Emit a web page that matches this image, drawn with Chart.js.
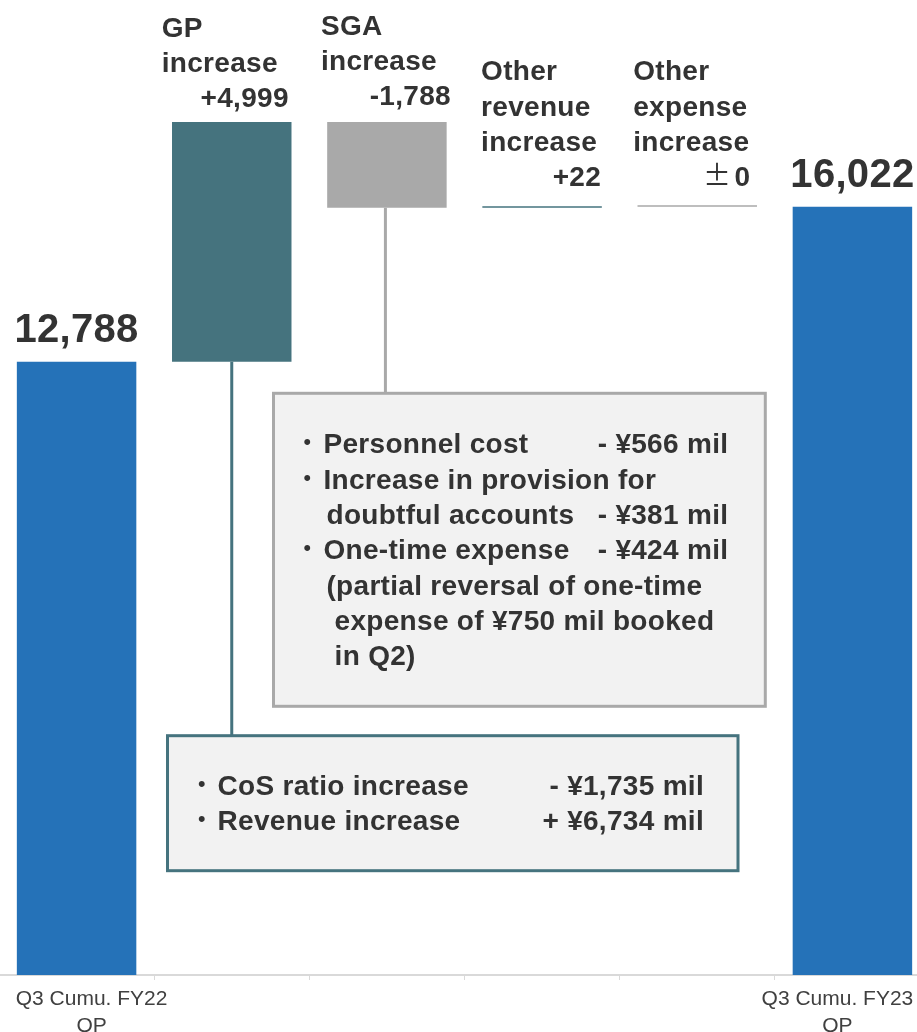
<!DOCTYPE html>
<html>
<head>
<meta charset="utf-8">
<script src="https://cdn.jsdelivr.net/npm/chart.js@4.4.1/dist/chart.umd.min.js"></script>
<style>
  html, body { margin: 0; padding: 0; background: #ffffff; overflow: hidden; }
  #wrap { position: absolute; left: -1px; top: 0; width: 931px; height: 1032px; }
</style>
</head>
<body>
<div id="wrap"><canvas id="bridge"></canvas></div>
<script>
// Operating profit bridge, Q3 cumulative FY22 -> FY23 (JPY mil)
const categories = ['Q3 Cumu. FY22 OP', 'GP increase', 'SGA increase',
                    'Other revenue increase', 'Other expense increase', 'Q3 Cumu. FY23 OP'];
const tickLabels = [['Q3 Cumu. FY22', 'OP'], '', '', '', '', ['Q3 Cumu. FY23', 'OP']];
const headerNames = [null, ['GP', 'increase'], ['SGA', 'increase'],
                     ['Other', 'revenue', 'increase'], ['Other', 'expense', 'increase'], null];
const startOP = 12788;
const changes = [4999, -1788, 22, 0];
const endOP = 16022;

// breakdown notes: [bullet, text, amount]
const gpDetails = [
  ['・', 'CoS ratio increase', '- ¥1,735 mil'],
  ['・', 'Revenue increase', '+ ¥6,734 mil']
];
const sgaDetails = [
  ['・', 'Personnel cost', '- ¥566 mil'],
  ['・', 'Increase in provision for', ''],
  ['', 'doubtful accounts', '- ¥381 mil'],
  ['・', 'One-time expense', '- ¥424 mil'],
  ['', '(partial reversal of one-time', ''],
  ['', ' expense of ¥750 mil booked', ''],
  ['', ' in Q2)', '']
];

// colours and layout
const BLUE = '#2572b8', TEAL = '#45737e', GRAY = '#a9a9a9', INK = '#333333';
const FONT = '"Liberation Sans", Arial, "Noto Sans CJK JP", sans-serif';
const HEADER_LEFT = [0, -70, -66, -61, -64, 0];
const HEADER_RIGHT = [0, 57, 64, 59, 53, 0];
const HEADER_GAP = [0, 15, 17, 20, 19, 0];
const AXIS_LABEL_SHIFT = [15, 0, 0, 0, 0, -15];
const BOX_SGA = { left: 274.5, top: 393.3, right: 766.3, bottom: 706.3, color: GRAY, lines: sgaDetails,
                  firstBaseline: 60, lineStep: 35.3, bulletX: 34, textX: 50, contX: 53, amountRight: 37 };
const BOX_GP = { left: 168.5, top: 735.7, right: 739, bottom: 870.7, color: TEAL, lines: gpDetails,
                 firstBaseline: 59.5, lineStep: 35, bulletX: 34.5, textX: 50, contX: 53, amountRight: 34 };

// floating bars for the bridge
const barData = [];
const barColors = [];
let running = startOP;
barData.push([0, startOP]);
barColors.push(BLUE);
changes.forEach(c => {
  barData.push([running, running + c]);
  barColors.push(c > 0 ? TEAL : GRAY);
  running += c;
});
barData.push([0, endOP]);
barColors.push(BLUE);

const fmt = n => Math.abs(n).toLocaleString('en-US');
const signed = n => (n > 0 ? '+' : n < 0 ? '-' : '±') + fmt(n);

function drawBox(ctx, b) {
  ctx.fillStyle = '#f2f2f2';
  ctx.fillRect(b.left, b.top, b.right - b.left, b.bottom - b.top);
  ctx.lineWidth = 3;
  ctx.strokeStyle = b.color;
  ctx.strokeRect(b.left, b.top, b.right - b.left, b.bottom - b.top);
  ctx.fillStyle = INK;
  ctx.textBaseline = 'alphabetic';
  b.lines.forEach((ln, k) => {
    const base = b.top + b.firstBaseline + k * b.lineStep;
    if (ln[0]) {
      ctx.font = '28px "Noto Sans CJK JP", sans-serif';
      ctx.textAlign = 'center';
      ctx.fillText(ln[0], b.left + b.bulletX, base);
    }
    ctx.font = 'bold 28px ' + FONT;
    ctx.textAlign = 'left';
    ctx.fillText(ln[1], b.left + (ln[0] ? b.textX : b.contX), base);
    if (ln[2]) {
      ctx.textAlign = 'right';
      ctx.fillText(ln[2], b.right - b.amountRight, base);
    }
  });
}

const bridgeLabels = {
  id: 'bridgeLabels',
  afterDatasetsDraw(chart) {
    const ctx = chart.ctx;
    const bars = chart.getDatasetMeta(0).data;
    const top = i => Math.min(bars[i].y, bars[i].base);
    const bottom = i => Math.max(bars[i].y, bars[i].base);
    ctx.save();
    try { ctx.letterSpacing = '0.3px'; } catch (e) {}

    // leader lines from the GP and SGA bars to their notes
    ctx.lineWidth = 3;
    ctx.strokeStyle = TEAL;
    ctx.beginPath();
    ctx.moveTo(bars[1].x, bottom(1));
    ctx.lineTo(bars[1].x, BOX_GP.top);
    ctx.stroke();
    ctx.strokeStyle = GRAY;
    ctx.beginPath();
    ctx.moveTo(bars[2].x - 1.5, bottom(2));
    ctx.lineTo(bars[2].x - 1.5, BOX_SGA.top);
    ctx.stroke();

    drawBox(ctx, BOX_SGA);
    drawBox(ctx, BOX_GP);

    // totals above the blue bars
    ctx.fillStyle = INK;
    ctx.textAlign = 'center';
    ctx.textBaseline = 'alphabetic';
    ctx.font = 'bold 40px ' + FONT;
    ctx.fillText(fmt(startOP), bars[0].x, top(0) - 20);
    ctx.fillText(fmt(endOP), bars[5].x, top(5) - 20);

    // headers above the change bars
    changes.forEach((c, j) => {
      const i = j + 1;
      const names = headerNames[i];
      const valueBase = top(i) - HEADER_GAP[i];
      const left = bars[i].x + HEADER_LEFT[i];
      const right = bars[i].x + HEADER_RIGHT[i];
      ctx.font = 'bold 28px ' + FONT;
      ctx.textAlign = 'left';
      names.forEach((nm, k) => {
        ctx.fillText(nm, left, valueBase - (names.length - k) * 35.3);
      });
      const txt = signed(c);
      ctx.textAlign = 'right';
      if (txt.startsWith('±')) {
        const num = txt.slice(1);
        ctx.fillText(num, right, valueBase);
        const w = ctx.measureText(num).width;
        ctx.font = '28px "Noto Sans CJK JP", sans-serif';
        ctx.fillText('±', right - w - 3, valueBase);
      } else {
        ctx.fillText(txt, right, valueBase);
      }
    });

    // category names under the axis
    try { ctx.letterSpacing = '0px'; } catch (e) {}
    ctx.font = '21px ' + FONT;
    ctx.fillStyle = '#404040';
    ctx.textAlign = 'center';
    const axisBottom = chart.chartArea.bottom;
    tickLabels.forEach((lab, i) => {
      if (!lab) return;
      const cx = bars[i].x + AXIS_LABEL_SHIFT[i];
      lab.forEach((line, k) => ctx.fillText(line, cx, axisBottom + 30 + k * 27));
    });
    ctx.restore();
  }
};

new Chart(document.getElementById('bridge'), {
  type: 'bar',
  data: {
    labels: categories,
    datasets: [{
      label: 'Operating profit (JPY mil)',
      data: barData,
      backgroundColor: barColors,
      borderWidth: 0,
      barPercentage: 0.77,
      categoryPercentage: 1,
      minBarLength: 1.5
    }]
  },
  options: {
    responsive: true,
    maintainAspectRatio: false,
    animation: false,
    layout: { padding: { top: 16, bottom: 52, left: 0, right: 0 } },
    plugins: { legend: { display: false }, tooltip: { enabled: false } },
    scales: {
      x: {
        ticks: { display: false },
        grid: { display: true, drawOnChartArea: false, drawTicks: true, tickLength: 5,
                color: '#d9d9d9', lineWidth: 1, offset: true },
        border: { display: true, color: '#d9d9d9', width: 2 }
      },
      y: { display: false, min: 0, max: 20000 }
    }
  },
  plugins: [bridgeLabels]
});
</script>
</body>
</html>
